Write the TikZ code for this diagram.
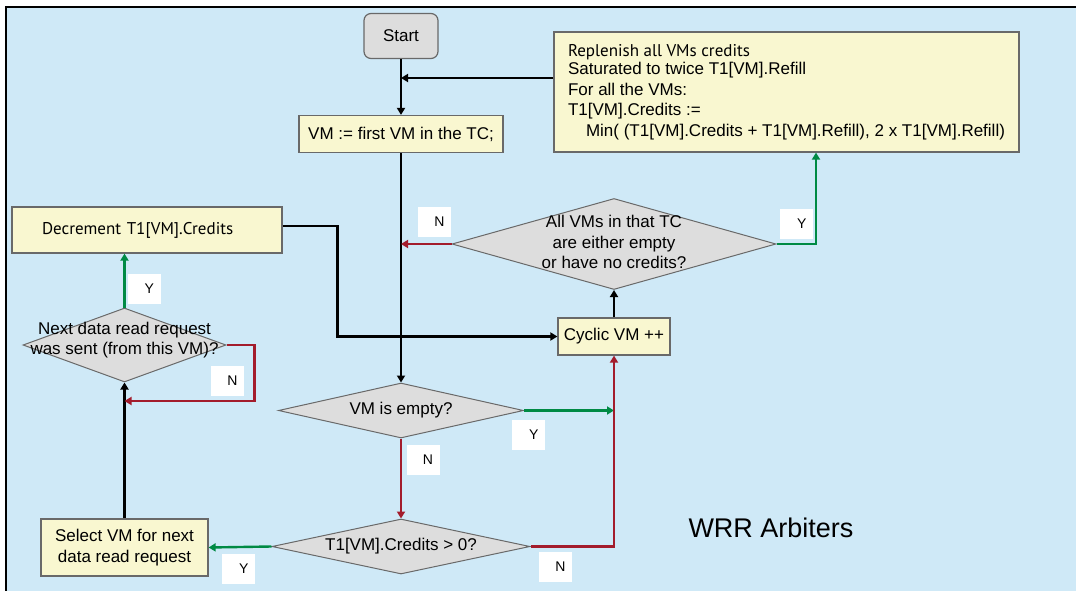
\documentclass[tikz,border=0pt]{standalone}
\usepackage{fontspec}
\setmainfont{Liberation Sans}
\newfontfamily\myriad{PT Sans}
\usepackage{xcolor}
\usetikzlibrary{arrows.meta}
\usetikzlibrary{shapes.geometric}

\definecolor{wrrblue}{RGB}{207,233,247}
\definecolor{wrryellow}{RGB}{249,247,208}
\definecolor{wrrgray}{RGB}{221,221,221}
\definecolor{wrrgreen}{RGB}{0,138,68}
\definecolor{wrrred}{RGB}{163,28,44}
\definecolor{wrrframe}{RGB}{105,105,105}

\tikzset{
  every node/.style={font=\fontsize{17}{20.5}\selectfont},
  startbox/.style={draw=wrrframe, fill=wrrgray, line width=1.2pt, rounded corners=7pt,
    minimum width=74pt, minimum height=45pt},
  action/.style={draw=wrrframe, fill=wrryellow, line width=1.2pt, inner sep=0pt},
  decision/.style={diamond, draw=wrrframe, fill=wrrgray, line width=1pt, inner sep=0pt},
  flow/.style={line width=2.4pt, -{Triangle[length=7pt,width=8pt]}},
  yes/.style={flow, draw=wrrgreen},
  no/.style={flow, draw=wrrred},
  answer/.style={fill=white, minimum width=33pt, minimum height=30pt, inner sep=0pt,
    text width=20pt, align=right, font=\fontsize{14}{16}\selectfont}
}

\begin{document}
\begin{tikzpicture}[x=1pt, y=-1pt]
        \useasboundingbox (0,0) rectangle (1076,591);
        \clip (0,0) rectangle (1076,591);
        \draw[fill=wrrblue, line width=1.5pt] (6,7) rectangle (1100,620);

        % boxes
        \node[startbox] (start) at (401,36) {Start};
        \node[action, minimum width=204pt, minimum height=37pt] (firstvm) at (401,134) {VM := first VM in the TC;};
        \node[action, minimum width=465pt, minimum height=120pt, align=left] (replenish) at (786.5,92)
          {{\myriad Replenish all VMs credits}\\[-2pt]
           Saturated to twice T1[VM].Refill\\
           For all the VMs:\\
           T1[VM].Credits :=\\
           \hspace*{18pt}Min( (T1[VM].Credits + T1[VM].Refill), 2 x T1[VM].Refill)};
        \node[action, minimum height=46pt, text width=210pt, inner xsep=30pt, align=left] (decrement) at (147,230)
          {\myriad Decrement T1[VM].Credits};
        \node[action, minimum width=112pt, minimum height=37pt] (cyclic) at (614,336.5) {Cyclic VM ++};
        \node[action, minimum width=167pt, minimum height=57pt, align=center] (select) at (124.5,547.5)
          {Select VM for next\\data read request};

        % decisions
        \node[decision, minimum width=324pt, minimum height=91pt,
          label={[align=center, yshift=2pt]center:All VMs in that TC\\ are either empty\\ or have no credits?}] (allempty) at (614,244) {};
        \node[decision, minimum width=203pt, minimum height=74pt,
          label={[align=center, yshift=5pt]center:Next data read request\\was sent (from this VM)?}] (nextreq) at (124.5,345) {};
        \node[decision, minimum width=245pt, minimum height=55pt,
          label={center:VM is empty?}] (vmempty) at (401,410.5) {};
        \node[decision, minimum width=258pt, minimum height=55pt,
          label={center:T1[VM].Credits > 0?}] (credits) at (401,546.5) {};

        \node[font=\fontsize{27}{30}\selectfont] (title) at (771,528) {WRR Arbiters};

        \coordinate (merge) at (401,78);
        \coordinate (loopback) at (124.5,401);

        % connectors
        \draw[flow] (start.south) -- (firstvm.north);
        \draw[flow] (replenish.west |- merge) -- (merge);
        \draw[flow] (firstvm.south) -- (vmempty.north);
        \draw[no] (allempty.west) -- (allempty.west -| firstvm.south);
        \draw[yes] (allempty.east) -| ([xshift=29.5pt]replenish.south);
        \draw[flow] ([yshift=4pt]decrement.east) -- ++(55,0) |- (cyclic.west);
        \draw[flow] (cyclic.north) -- (allempty.south);
        \draw[yes] (vmempty.east) -- (vmempty.east -| cyclic.south);
        \draw[no] (vmempty.south) -- (credits.north);
        \draw[no] (credits.east) -| (cyclic.south);
        \draw[yes] (credits.west) -- (select.east);
        \draw[flow] (select.north) -- (nextreq.south);
        \draw[no] (nextreq.east) -- ++(28,0) |- (loopback);
        \draw[yes] (nextreq.north) -- (nextreq.north |- decrement.south);

        % answers
        \node[answer] (n1) at (434.5,222) {N};
        \node[answer] (y1) at (796.5,223.5) {Y};
        \node[answer] (y2) at (144,288.5) {Y};
        \node[answer] (n2) at (227.5,381) {N};
        \node[answer] (y3) at (528.5,434.5) {Y};
        \node[answer] (n3) at (423,459.5) {N};
        \node[answer] (y4) at (238.5,568.5) {Y};
        \node[answer] (n4) at (555.5,567) {N};
\end{tikzpicture}
\end{document}
